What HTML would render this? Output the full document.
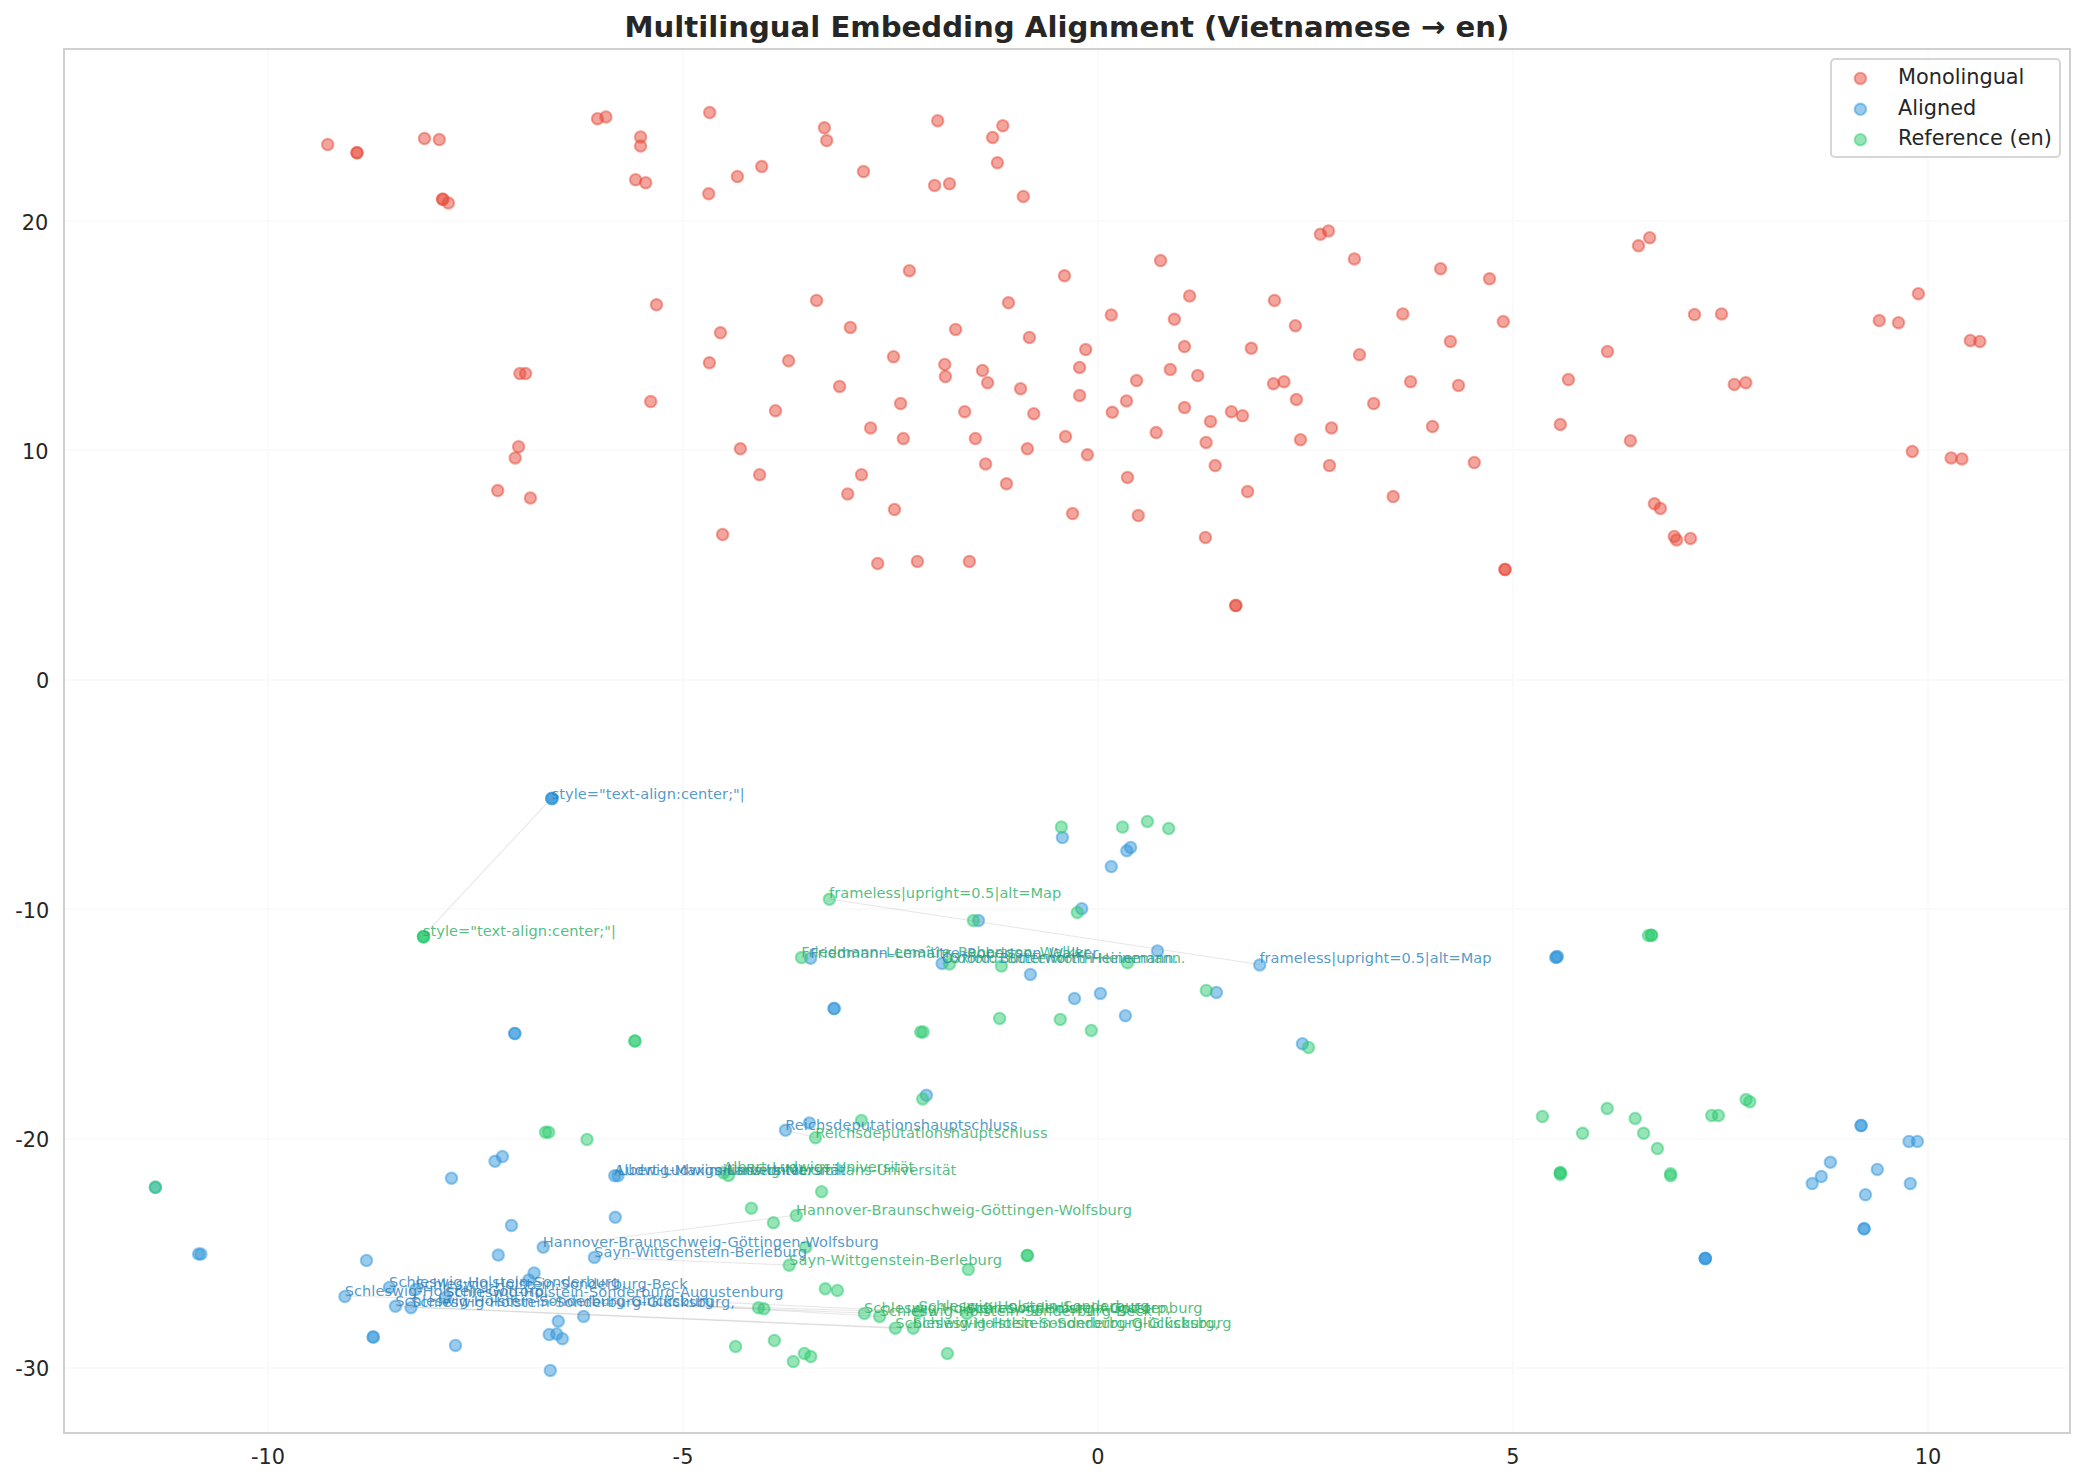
<!DOCTYPE html>
<html lang="en"><head><meta charset="utf-8"><title>Multilingual Embedding Alignment</title>
<style>
html,body{margin:0;padding:0;background:#ffffff;}
body{width:2085px;height:1483px;position:relative;overflow:hidden;font-family:"DejaVu Sans","Liberation Sans",sans-serif;}
svg text{white-space:pre;}
</style></head><body>
<svg width="2085" height="1483" viewBox="0 0 2085 1483" style="position:absolute;left:0;top:0">
<g stroke="#fafafa" stroke-width="2" shape-rendering="crispEdges"><line x1="268" y1="49" x2="268" y2="1433"/><line x1="683" y1="49" x2="683" y2="1433"/><line x1="1098" y1="49" x2="1098" y2="1433"/><line x1="1513" y1="49" x2="1513" y2="1433"/><line x1="1928" y1="49" x2="1928" y2="1433"/><line x1="64" y1="221" x2="2070" y2="221"/><line x1="64" y1="450" x2="2070" y2="450"/><line x1="64" y1="680" x2="2070" y2="680"/><line x1="64" y1="909" x2="2070" y2="909"/><line x1="64" y1="1139" x2="2070" y2="1139"/><line x1="64" y1="1368" x2="2070" y2="1368"/></g>
<g fill="#e74c3c" fill-opacity="0.5" stroke="#e74c3c" stroke-opacity="0.5" stroke-width="2.08"><circle cx="327.7" cy="144.6" r="5.7"/><circle cx="357.0" cy="152.7" r="5.7"/><circle cx="357.0" cy="152.7" r="5.7"/><circle cx="424.5" cy="138.5" r="5.7"/><circle cx="439.3" cy="139.6" r="5.7"/><circle cx="597.5" cy="118.7" r="5.7"/><circle cx="605.9" cy="117.0" r="5.7"/><circle cx="640.6" cy="136.9" r="5.7"/><circle cx="640.6" cy="146.0" r="5.7"/><circle cx="635.6" cy="179.7" r="5.7"/><circle cx="645.7" cy="182.7" r="5.7"/><circle cx="442.7" cy="199.2" r="5.7"/><circle cx="442.7" cy="199.2" r="5.7"/><circle cx="448.4" cy="202.9" r="5.7"/><circle cx="656.5" cy="304.8" r="5.7"/><circle cx="519.9" cy="373.6" r="5.7"/><circle cx="525.6" cy="373.6" r="5.7"/><circle cx="650.7" cy="401.6" r="5.7"/><circle cx="518.6" cy="446.7" r="5.7"/><circle cx="515.2" cy="457.9" r="5.7"/><circle cx="497.7" cy="490.6" r="5.7"/><circle cx="530.4" cy="498.0" r="5.7"/><circle cx="709.7" cy="112.6" r="5.7"/><circle cx="708.7" cy="193.8" r="5.7"/><circle cx="737.4" cy="176.6" r="5.7"/><circle cx="761.7" cy="166.5" r="5.7"/><circle cx="824.4" cy="127.8" r="5.7"/><circle cx="826.7" cy="140.6" r="5.7"/><circle cx="863.5" cy="171.6" r="5.7"/><circle cx="937.7" cy="120.7" r="5.7"/><circle cx="934.6" cy="185.4" r="5.7"/><circle cx="949.5" cy="183.7" r="5.7"/><circle cx="1002.8" cy="125.7" r="5.7"/><circle cx="992.6" cy="137.5" r="5.7"/><circle cx="997.4" cy="162.8" r="5.7"/><circle cx="1023.3" cy="196.5" r="5.7"/><circle cx="909.4" cy="270.7" r="5.7"/><circle cx="1064.5" cy="275.8" r="5.7"/><circle cx="816.6" cy="300.4" r="5.7"/><circle cx="1008.5" cy="302.8" r="5.7"/><circle cx="720.5" cy="332.8" r="5.7"/><circle cx="850.3" cy="327.4" r="5.7"/><circle cx="955.6" cy="329.4" r="5.7"/><circle cx="1029.4" cy="337.5" r="5.7"/><circle cx="1085.7" cy="349.6" r="5.7"/><circle cx="709.4" cy="362.8" r="5.7"/><circle cx="788.6" cy="360.8" r="5.7"/><circle cx="893.5" cy="356.7" r="5.7"/><circle cx="944.8" cy="364.5" r="5.7"/><circle cx="945.4" cy="376.6" r="5.7"/><circle cx="982.5" cy="370.5" r="5.7"/><circle cx="987.6" cy="382.7" r="5.7"/><circle cx="1079.6" cy="367.5" r="5.7"/><circle cx="839.6" cy="386.4" r="5.7"/><circle cx="1020.6" cy="388.7" r="5.7"/><circle cx="1079.6" cy="395.5" r="5.7"/><circle cx="900.6" cy="403.6" r="5.7"/><circle cx="775.5" cy="410.7" r="5.7"/><circle cx="964.7" cy="411.7" r="5.7"/><circle cx="1033.8" cy="413.7" r="5.7"/><circle cx="870.6" cy="427.9" r="5.7"/><circle cx="903.3" cy="438.6" r="5.7"/><circle cx="975.4" cy="438.6" r="5.7"/><circle cx="1065.5" cy="436.6" r="5.7"/><circle cx="740.4" cy="448.8" r="5.7"/><circle cx="1027.4" cy="448.8" r="5.7"/><circle cx="1087.4" cy="454.8" r="5.7"/><circle cx="985.6" cy="463.9" r="5.7"/><circle cx="759.6" cy="474.7" r="5.7"/><circle cx="861.5" cy="474.7" r="5.7"/><circle cx="1006.5" cy="483.8" r="5.7"/><circle cx="847.7" cy="493.9" r="5.7"/><circle cx="1328.5" cy="230.9" r="5.7"/><circle cx="1320.4" cy="234.3" r="5.7"/><circle cx="1160.6" cy="260.6" r="5.7"/><circle cx="1354.4" cy="258.9" r="5.7"/><circle cx="1189.6" cy="296.0" r="5.7"/><circle cx="1274.5" cy="300.4" r="5.7"/><circle cx="1111.3" cy="314.9" r="5.7"/><circle cx="1174.4" cy="319.3" r="5.7"/><circle cx="1295.4" cy="325.7" r="5.7"/><circle cx="1184.5" cy="346.6" r="5.7"/><circle cx="1251.3" cy="348.3" r="5.7"/><circle cx="1359.5" cy="354.7" r="5.7"/><circle cx="1170.3" cy="369.5" r="5.7"/><circle cx="1197.7" cy="375.6" r="5.7"/><circle cx="1136.6" cy="380.6" r="5.7"/><circle cx="1273.5" cy="383.7" r="5.7"/><circle cx="1284.0" cy="381.7" r="5.7"/><circle cx="1126.5" cy="400.9" r="5.7"/><circle cx="1296.4" cy="399.5" r="5.7"/><circle cx="1373.7" cy="403.6" r="5.7"/><circle cx="1112.3" cy="412.3" r="5.7"/><circle cx="1184.5" cy="407.6" r="5.7"/><circle cx="1231.4" cy="411.7" r="5.7"/><circle cx="1242.5" cy="415.7" r="5.7"/><circle cx="1210.5" cy="421.4" r="5.7"/><circle cx="1156.2" cy="432.6" r="5.7"/><circle cx="1331.5" cy="427.9" r="5.7"/><circle cx="1206.1" cy="442.4" r="5.7"/><circle cx="1300.5" cy="439.7" r="5.7"/><circle cx="1215.2" cy="465.6" r="5.7"/><circle cx="1329.5" cy="465.6" r="5.7"/><circle cx="1127.5" cy="477.4" r="5.7"/><circle cx="1247.6" cy="491.6" r="5.7"/><circle cx="1393.2" cy="496.6" r="5.7"/><circle cx="1440.6" cy="268.7" r="5.7"/><circle cx="1489.5" cy="278.8" r="5.7"/><circle cx="1402.8" cy="313.9" r="5.7"/><circle cx="1503.3" cy="321.6" r="5.7"/><circle cx="1450.4" cy="341.5" r="5.7"/><circle cx="1410.6" cy="381.7" r="5.7"/><circle cx="1458.5" cy="385.4" r="5.7"/><circle cx="1432.5" cy="426.5" r="5.7"/><circle cx="1474.3" cy="462.6" r="5.7"/><circle cx="1649.7" cy="237.7" r="5.7"/><circle cx="1638.5" cy="245.8" r="5.7"/><circle cx="1694.5" cy="314.6" r="5.7"/><circle cx="1721.5" cy="313.9" r="5.7"/><circle cx="1607.5" cy="351.6" r="5.7"/><circle cx="1568.4" cy="379.6" r="5.7"/><circle cx="1734.3" cy="384.4" r="5.7"/><circle cx="1745.8" cy="382.7" r="5.7"/><circle cx="1560.3" cy="424.5" r="5.7"/><circle cx="1630.4" cy="440.7" r="5.7"/><circle cx="1918.4" cy="293.7" r="5.7"/><circle cx="1879.3" cy="320.6" r="5.7"/><circle cx="1898.5" cy="322.7" r="5.7"/><circle cx="1970.3" cy="340.5" r="5.7"/><circle cx="1979.8" cy="341.5" r="5.7"/><circle cx="1912.3" cy="451.5" r="5.7"/><circle cx="1951.1" cy="457.9" r="5.7"/><circle cx="1961.9" cy="458.9" r="5.7"/><circle cx="894.5" cy="509.5" r="5.7"/><circle cx="722.6" cy="534.5" r="5.7"/><circle cx="877.7" cy="563.5" r="5.7"/><circle cx="917.4" cy="561.4" r="5.7"/><circle cx="969.4" cy="561.4" r="5.7"/><circle cx="1072.6" cy="513.6" r="5.7"/><circle cx="1138.3" cy="515.6" r="5.7"/><circle cx="1205.4" cy="537.5" r="5.7"/><circle cx="1235.8" cy="605.6" r="5.7"/><circle cx="1235.8" cy="605.6" r="5.7"/><circle cx="1654.4" cy="503.8" r="5.7"/><circle cx="1660.4" cy="508.5" r="5.7"/><circle cx="1674.3" cy="536.5" r="5.7"/><circle cx="1676.6" cy="539.9" r="5.7"/><circle cx="1690.5" cy="538.5" r="5.7"/><circle cx="1505.0" cy="569.5" r="5.7"/><circle cx="1505.0" cy="569.5" r="5.7"/></g>
<g fill="#3498db" fill-opacity="0.5" stroke="#3498db" stroke-opacity="0.5" stroke-width="2.08"><circle cx="551.9" cy="798.5" r="5.7"/><circle cx="551.9" cy="798.5" r="5.7"/><circle cx="551.9" cy="798.5" r="5.7"/><circle cx="1062.4" cy="837.6" r="5.7"/><circle cx="1130.6" cy="847.4" r="5.7"/><circle cx="1126.8" cy="850.8" r="5.7"/><circle cx="1111.3" cy="866.6" r="5.7"/><circle cx="1081.7" cy="908.7" r="5.7"/><circle cx="978.5" cy="920.6" r="5.7"/><circle cx="810.6" cy="958.3" r="5.7"/><circle cx="942.1" cy="963.4" r="5.7"/><circle cx="1030.4" cy="974.5" r="5.7"/><circle cx="1157.5" cy="950.9" r="5.7"/><circle cx="1259.7" cy="964.9" r="5.7"/><circle cx="514.8" cy="1033.5" r="5.7"/><circle cx="514.8" cy="1033.5" r="5.7"/><circle cx="502.4" cy="1156.6" r="5.7"/><circle cx="495.0" cy="1161.3" r="5.7"/><circle cx="451.5" cy="1178.2" r="5.7"/><circle cx="614.7" cy="1175.8" r="5.7"/><circle cx="618.0" cy="1175.8" r="5.7"/><circle cx="615.3" cy="1217.3" r="5.7"/><circle cx="511.5" cy="1225.4" r="5.7"/><circle cx="543.2" cy="1247.3" r="5.7"/><circle cx="498.3" cy="1255.1" r="5.7"/><circle cx="594.4" cy="1257.4" r="5.7"/><circle cx="366.5" cy="1260.5" r="5.7"/><circle cx="198.6" cy="1254.1" r="5.7"/><circle cx="200.9" cy="1254.1" r="5.7"/><circle cx="534.1" cy="1272.9" r="5.7"/><circle cx="528.7" cy="1280.0" r="5.7"/><circle cx="389.4" cy="1287.4" r="5.7"/><circle cx="415.7" cy="1289.5" r="5.7"/><circle cx="344.9" cy="1296.5" r="5.7"/><circle cx="445.4" cy="1297.6" r="5.7"/><circle cx="395.5" cy="1306.3" r="5.7"/><circle cx="411.0" cy="1307.7" r="5.7"/><circle cx="583.6" cy="1316.4" r="5.7"/><circle cx="558.3" cy="1321.2" r="5.7"/><circle cx="549.2" cy="1334.6" r="5.7"/><circle cx="556.7" cy="1334.0" r="5.7"/><circle cx="562.4" cy="1338.7" r="5.7"/><circle cx="373.2" cy="1337.0" r="5.7"/><circle cx="373.2" cy="1337.0" r="5.7"/><circle cx="455.5" cy="1345.4" r="5.7"/><circle cx="550.3" cy="1370.4" r="5.7"/><circle cx="155.4" cy="1187.6" r="5.7"/><circle cx="834.1" cy="1008.6" r="5.7"/><circle cx="834.1" cy="1008.6" r="5.7"/><circle cx="1074.5" cy="998.5" r="5.7"/><circle cx="1100.4" cy="993.4" r="5.7"/><circle cx="1125.4" cy="1015.7" r="5.7"/><circle cx="1216.4" cy="992.4" r="5.7"/><circle cx="1302.4" cy="1043.7" r="5.7"/><circle cx="926.4" cy="1095.2" r="5.7"/><circle cx="809.4" cy="1122.9" r="5.7"/><circle cx="785.5" cy="1130.3" r="5.7"/><circle cx="1861.1" cy="1125.6" r="5.7"/><circle cx="1861.1" cy="1125.6" r="5.7"/><circle cx="1909.0" cy="1141.4" r="5.7"/><circle cx="1917.4" cy="1141.4" r="5.7"/><circle cx="1830.4" cy="1162.3" r="5.7"/><circle cx="1821.3" cy="1176.5" r="5.7"/><circle cx="1812.2" cy="1183.6" r="5.7"/><circle cx="1877.3" cy="1169.4" r="5.7"/><circle cx="1910.3" cy="1183.6" r="5.7"/><circle cx="1865.5" cy="1194.7" r="5.7"/><circle cx="1864.1" cy="1228.8" r="5.7"/><circle cx="1864.1" cy="1228.8" r="5.7"/><circle cx="1705.3" cy="1258.4" r="5.7"/><circle cx="1705.3" cy="1258.4" r="5.7"/><circle cx="1705.3" cy="1258.4" r="5.7"/><circle cx="1555.7" cy="957.6" r="5.7"/><circle cx="1556.6" cy="957.1" r="5.7"/><circle cx="1557.4" cy="956.5" r="5.7"/></g>
<g fill="#2ecc71" fill-opacity="0.5" stroke="#2ecc71" stroke-opacity="0.5" stroke-width="2.08"><circle cx="423.5" cy="936.7" r="5.7"/><circle cx="423.5" cy="936.7" r="5.7"/><circle cx="423.5" cy="936.7" r="5.7"/><circle cx="1061.4" cy="827.1" r="5.7"/><circle cx="1122.5" cy="827.1" r="5.7"/><circle cx="1147.4" cy="821.4" r="5.7"/><circle cx="1168.7" cy="828.5" r="5.7"/><circle cx="829.4" cy="899.3" r="5.7"/><circle cx="1077.3" cy="912.5" r="5.7"/><circle cx="973.4" cy="920.6" r="5.7"/><circle cx="801.5" cy="957.6" r="5.7"/><circle cx="949.5" cy="964.0" r="5.7"/><circle cx="1001.4" cy="966.1" r="5.7"/><circle cx="1127.5" cy="962.7" r="5.7"/><circle cx="634.9" cy="1041.0" r="5.7"/><circle cx="634.9" cy="1041.0" r="5.7"/><circle cx="545.5" cy="1132.3" r="5.7"/><circle cx="548.6" cy="1132.3" r="5.7"/><circle cx="587.0" cy="1139.4" r="5.7"/><circle cx="155.4" cy="1187.0" r="5.7"/><circle cx="1206.3" cy="990.4" r="5.7"/><circle cx="999.6" cy="1018.4" r="5.7"/><circle cx="1060.3" cy="1019.4" r="5.7"/><circle cx="1091.3" cy="1030.5" r="5.7"/><circle cx="920.7" cy="1031.9" r="5.7"/><circle cx="923.1" cy="1031.9" r="5.7"/><circle cx="1308.5" cy="1047.4" r="5.7"/><circle cx="922.7" cy="1099.0" r="5.7"/><circle cx="861.4" cy="1120.5" r="5.7"/><circle cx="815.5" cy="1137.7" r="5.7"/><circle cx="723.5" cy="1172.8" r="5.7"/><circle cx="728.5" cy="1175.5" r="5.7"/><circle cx="821.6" cy="1191.7" r="5.7"/><circle cx="751.4" cy="1208.2" r="5.7"/><circle cx="796.3" cy="1215.6" r="5.7"/><circle cx="773.4" cy="1222.7" r="5.7"/><circle cx="805.7" cy="1247.3" r="5.7"/><circle cx="789.2" cy="1265.2" r="5.7"/><circle cx="1027.3" cy="1255.4" r="5.7"/><circle cx="1027.3" cy="1255.4" r="5.7"/><circle cx="968.3" cy="1269.6" r="5.7"/><circle cx="825.3" cy="1288.8" r="5.7"/><circle cx="837.4" cy="1290.5" r="5.7"/><circle cx="758.5" cy="1307.7" r="5.7"/><circle cx="763.9" cy="1308.7" r="5.7"/><circle cx="864.4" cy="1313.4" r="5.7"/><circle cx="879.6" cy="1316.4" r="5.7"/><circle cx="895.4" cy="1328.2" r="5.7"/><circle cx="913.3" cy="1328.2" r="5.7"/><circle cx="735.6" cy="1346.5" r="5.7"/><circle cx="774.4" cy="1340.4" r="5.7"/><circle cx="804.4" cy="1353.5" r="5.7"/><circle cx="810.8" cy="1356.6" r="5.7"/><circle cx="793.3" cy="1361.6" r="5.7"/><circle cx="947.4" cy="1353.5" r="5.7"/><circle cx="1542.4" cy="1116.5" r="5.7"/><circle cx="1582.6" cy="1133.3" r="5.7"/><circle cx="1607.2" cy="1108.4" r="5.7"/><circle cx="1635.2" cy="1118.5" r="5.7"/><circle cx="1643.6" cy="1133.3" r="5.7"/><circle cx="1657.4" cy="1148.5" r="5.7"/><circle cx="1560.3" cy="1172.8" r="5.7"/><circle cx="1560.3" cy="1172.8" r="5.7"/><circle cx="1560.3" cy="1174.5" r="5.7"/><circle cx="1670.6" cy="1173.8" r="5.7"/><circle cx="1670.6" cy="1175.8" r="5.7"/><circle cx="1711.7" cy="1115.5" r="5.7"/><circle cx="1718.4" cy="1115.5" r="5.7"/><circle cx="1746.1" cy="1099.6" r="5.7"/><circle cx="1749.8" cy="1101.7" r="5.7"/><circle cx="918.6" cy="1311.6" r="5.7"/><circle cx="967" cy="1313.5" r="5.7"/><circle cx="1648.5" cy="935.5" r="5.7"/><circle cx="1651.5" cy="935.3" r="5.7"/><circle cx="1651.5" cy="935.3" r="5.7"/></g>
<g stroke="#808080" stroke-opacity="0.2" stroke-width="1.04"><line x1="551.6" y1="798.2" x2="422.8" y2="936.4"/><line x1="1259.4" y1="964.5" x2="829.1" y2="899"/><line x1="810.2" y1="958.6" x2="801.2" y2="957.2"/><line x1="941.8" y1="963.2" x2="949.2" y2="963.6"/><line x1="785.2" y1="1130" x2="815.2" y2="1137.6"/><line x1="614.3" y1="1175.3" x2="723.3" y2="1172.0"/><line x1="617.7" y1="1175.3" x2="728.5" y2="1175.5"/><line x1="542.8" y1="1247.2" x2="796" y2="1215.3"/><line x1="594" y1="1257.2" x2="789" y2="1265"/><line x1="389.1" y1="1286.8" x2="918.6" y2="1311.6"/><line x1="415.2" y1="1289" x2="879.5" y2="1316.4"/><line x1="344.8" y1="1296.1" x2="967" y2="1313.5"/><line x1="445" y1="1297" x2="864" y2="1313"/><line x1="395.2" y1="1306.2" x2="913" y2="1328.2"/><line x1="411" y1="1307.3" x2="895.3" y2="1328.2"/></g>
<g font-family="'DejaVu Sans', 'Liberation Sans', sans-serif" font-size="14.58" fill-opacity="0.8"><text transform="translate(551.6,798.6)" textLength="193.2" lengthAdjust="spacing" fill="#2980b9">style=&quot;text-align:center;&quot;|</text><text transform="translate(422.8,935.8)" textLength="193.2" lengthAdjust="spacing" fill="#27ae60">style=&quot;text-align:center;&quot;|</text><text transform="translate(1259.4,963.3)" textLength="232.2" lengthAdjust="spacing" fill="#2980b9">frameless|upright=0.5|alt=Map</text><text transform="translate(829.1,898.3)" textLength="232.2" lengthAdjust="spacing" fill="#27ae60">frameless|upright=0.5|alt=Map</text><text transform="translate(810.2,958.3)" textLength="288.1" lengthAdjust="spacing" fill="#2980b9">Friedmann–Lemaître–Robertson–Walker</text><text transform="translate(801.2,956.9)" textLength="288.1" lengthAdjust="spacing" fill="#27ae60">Friedmann–Lemaître–Robertson–Walker</text><text transform="translate(941.8,962.9)" textLength="236.3" lengthAdjust="spacing" fill="#2980b9">Oxford: Butterworth-Heinemann.</text><text transform="translate(949.2,963.3)" textLength="236.3" lengthAdjust="spacing" fill="#27ae60">Oxford: Butterworth-Heinemann.</text><text transform="translate(785.2,1130.1)" textLength="232.3" lengthAdjust="spacing" fill="#2980b9">Reichsdeputationshauptschluss</text><text transform="translate(815.2,1137.8)" textLength="232.3" lengthAdjust="spacing" fill="#27ae60">Reichsdeputationshauptschluss</text><text transform="translate(614.3,1175.0)" textLength="191.0" lengthAdjust="spacing" fill="#2980b9">Albert-Ludwigs-Universität</text><text transform="translate(723.3,1171.7)" textLength="191.0" lengthAdjust="spacing" fill="#27ae60">Albert-Ludwigs-Universität</text><text transform="translate(617.7,1175.0)" textLength="227.8" lengthAdjust="spacing" fill="#2980b9">Ludwig-Maximilians-Universität</text><text transform="translate(728.5,1175.2)" textLength="227.8" lengthAdjust="spacing" fill="#27ae60">Ludwig-Maximilians-Universität</text><text transform="translate(542.8,1246.9)" textLength="335.9" lengthAdjust="spacing" fill="#2980b9">Hannover-Braunschweig-Göttingen-Wolfsburg</text><text transform="translate(796.0,1215.0)" textLength="335.9" lengthAdjust="spacing" fill="#27ae60">Hannover-Braunschweig-Göttingen-Wolfsburg</text><text transform="translate(594.0,1256.9)" textLength="213.1" lengthAdjust="spacing" fill="#2980b9">Sayn-Wittgenstein-Berleburg</text><text transform="translate(789.0,1264.7)" textLength="213.1" lengthAdjust="spacing" fill="#27ae60">Sayn-Wittgenstein-Berleburg</text><text transform="translate(389.1,1286.5)" textLength="230.8" lengthAdjust="spacing" fill="#2980b9">Schleswig-Holstein-Sonderburg</text><text transform="translate(918.6,1311.3)" textLength="230.8" lengthAdjust="spacing" fill="#27ae60">Schleswig-Holstein-Sonderburg</text><text transform="translate(415.2,1288.7)" textLength="272.4" lengthAdjust="spacing" fill="#2980b9">Schleswig-Holstein-Sonderburg-Beck</text><text transform="translate(879.5,1316.1)" textLength="272.4" lengthAdjust="spacing" fill="#27ae60">Schleswig-Holstein-Sonderburg-Beck</text><text transform="translate(344.8,1295.8)" textLength="203.8" lengthAdjust="spacing" fill="#2980b9">Schleswig-Holstein-Gottorp,</text><text transform="translate(967.0,1313.2)" textLength="203.8" lengthAdjust="spacing" fill="#27ae60">Schleswig-Holstein-Gottorp,</text><text transform="translate(445.0,1296.7)" textLength="338.6" lengthAdjust="spacing" fill="#2980b9">Schleswig-Holstein-Sonderburg-Augustenburg</text><text transform="translate(864.0,1312.7)" textLength="338.6" lengthAdjust="spacing" fill="#27ae60">Schleswig-Holstein-Sonderburg-Augustenburg</text><text transform="translate(395.2,1305.9)" textLength="318.6" lengthAdjust="spacing" fill="#2980b9">Schleswig-Holstein-Sonderburg-Glücksburg</text><text transform="translate(913.0,1327.9)" textLength="318.6" lengthAdjust="spacing" fill="#27ae60">Schleswig-Holstein-Sonderburg-Glücksburg</text><text transform="translate(411.0,1307.0)" textLength="323.9" lengthAdjust="spacing" fill="#2980b9">Schleswig-Holstein-Sonderburg-Glücksburg,</text><text transform="translate(895.3,1327.9)" textLength="323.9" lengthAdjust="spacing" fill="#27ae60">Schleswig-Holstein-Sonderburg-Glücksburg,</text></g>
<rect x="64" y="49" width="2006" height="1384" fill="none" stroke="#d0d0d0" stroke-width="2" shape-rendering="crispEdges"/>
<g font-family="'DejaVu Sans', 'Liberation Sans', sans-serif" font-size="20.83" fill="#262626"><text x="268" y="1464" text-anchor="middle">-10</text><text x="683" y="1464" text-anchor="middle">-5</text><text x="1098" y="1464" text-anchor="middle">0</text><text x="1513" y="1464" text-anchor="middle">5</text><text x="1928" y="1464" text-anchor="middle">10</text><text x="48.3" y="229.6" text-anchor="end">20</text><text x="48.5" y="458.6" text-anchor="end">10</text><text x="49.2" y="687.5" text-anchor="end">0</text><text x="49.2" y="917.6" text-anchor="end">-10</text><text x="49.2" y="1146.5" text-anchor="end">-20</text><text x="49.3" y="1375.5" text-anchor="end">-30</text></g>
<text x="1067.0" y="37.2" text-anchor="middle" font-family="'DejaVu Sans', 'Liberation Sans', sans-serif" font-weight="bold" font-size="29.17" fill="#262626">Multilingual Embedding Alignment (Vietnamese → en)</text>
<rect x="1831" y="59" width="229" height="98" rx="4" ry="4" fill="#ffffff" fill-opacity="0.8" stroke="#cccccc" stroke-opacity="0.8" stroke-width="2.08"/>
<circle cx="1860.4" cy="78.4" r="5.7" fill="#e74c3c" fill-opacity="0.5" stroke="#e74c3c" stroke-opacity="0.5" stroke-width="2.08"/><text x="1898" y="83.9" font-family="'DejaVu Sans', 'Liberation Sans', sans-serif" font-size="20.83" fill="#262626">Monolingual</text><circle cx="1860.4" cy="109.3" r="5.7" fill="#3498db" fill-opacity="0.5" stroke="#3498db" stroke-opacity="0.5" stroke-width="2.08"/><text x="1898" y="114.5" font-family="'DejaVu Sans', 'Liberation Sans', sans-serif" font-size="20.83" fill="#262626">Aligned</text><circle cx="1860.4" cy="139.7" r="5.7" fill="#2ecc71" fill-opacity="0.5" stroke="#2ecc71" stroke-opacity="0.5" stroke-width="2.08"/><text x="1898" y="145.0" font-family="'DejaVu Sans', 'Liberation Sans', sans-serif" font-size="20.83" fill="#262626">Reference (en)</text>
</svg>
</body></html>
